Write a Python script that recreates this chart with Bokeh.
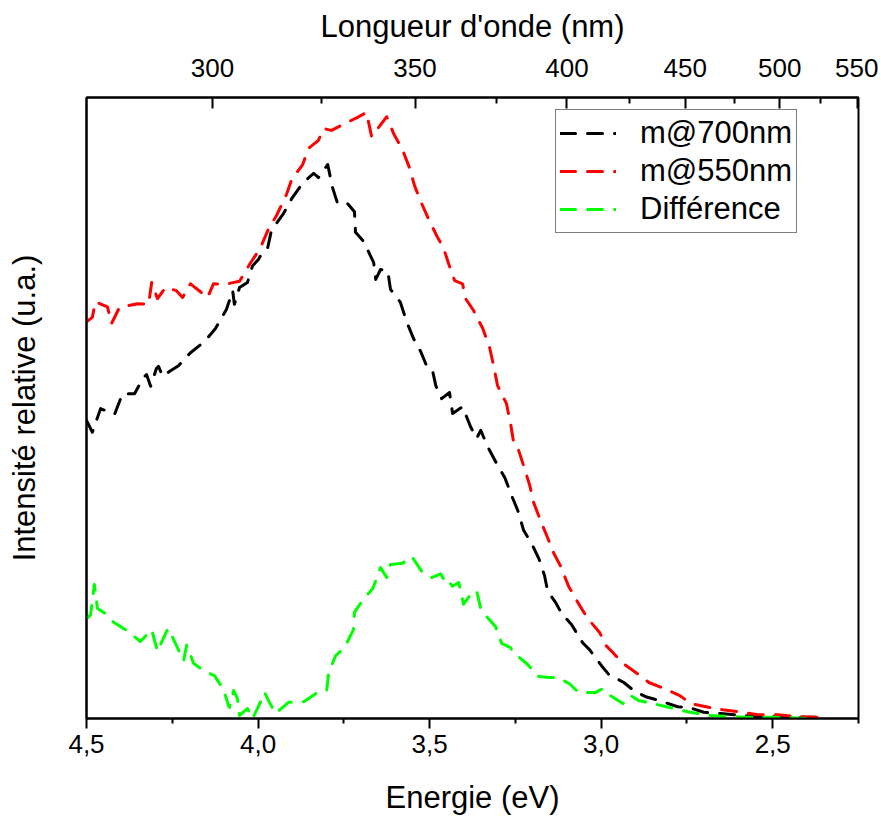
from bokeh.plotting import figure
from bokeh.models import Range1d, LinearAxis, FixedTicker, Legend, LegendItem
from bokeh.embed import file_html
from bokeh.resources import INLINE

# ---- data (energy in eV, relative intensity) ----
energy_700 = [4.500, 4.483, 4.459, 4.418, 4.395, 4.360, 4.334, 4.325, 4.313, 4.296,
              4.290, 4.278, 4.255, 4.232, 4.197, 4.156, 4.124, 4.092, 4.074, 4.069,
              4.054, 4.031, 4.016, 3.999, 3.984, 3.972, 3.961, 3.926, 3.902, 3.870,
              3.838, 3.824, 3.797, 3.783, 3.768, 3.739, 3.719, 3.716, 3.692, 3.663,
              3.657, 3.643, 3.622, 3.614, 3.585, 3.567, 3.547, 3.526, 3.506, 3.491,
              3.482, 3.465, 3.442, 3.433, 3.404, 3.380, 3.363, 3.351, 3.331, 3.305,
              3.281, 3.261, 3.243, 3.226, 3.203, 3.182, 3.165, 3.156, 3.133, 3.115,
              3.086, 3.054, 3.034, 2.999, 2.978, 2.934, 2.905, 2.870, 2.832, 2.777,
              2.745, 2.701, 2.652, 2.584, 2.544, 2.485, 2.439, 2.369]
intensity_700 = [0.480, 0.461, 0.499, 0.490, 0.523, 0.523, 0.549, 0.554, 0.535, 0.564,
                 0.567, 0.551, 0.560, 0.568, 0.589, 0.607, 0.628, 0.659, 0.689, 0.667,
                 0.694, 0.702, 0.729, 0.739, 0.754, 0.758, 0.786, 0.813, 0.837, 0.862,
                 0.878, 0.871, 0.892, 0.855, 0.829, 0.829, 0.816, 0.783, 0.768, 0.734,
                 0.707, 0.723, 0.721, 0.691, 0.670, 0.639, 0.612, 0.591, 0.564, 0.559,
                 0.536, 0.515, 0.525, 0.491, 0.502, 0.469, 0.451, 0.464, 0.438, 0.411,
                 0.388, 0.359, 0.335, 0.303, 0.282, 0.258, 0.230, 0.205, 0.187, 0.169,
                 0.151, 0.122, 0.111, 0.085, 0.071, 0.058, 0.045, 0.035, 0.029, 0.019,
                 0.018, 0.010, 0.008, 0.005, 0.002, 0.003, 0.002, 0.002]

energy_550 = [4.500, 4.483, 4.474, 4.439, 4.427, 4.404, 4.351, 4.319, 4.310, 4.293,
              4.270, 4.238, 4.220, 4.197, 4.147, 4.130, 4.098, 4.054, 4.025, 3.993,
              3.969, 3.946, 3.917, 3.902, 3.870, 3.853, 3.824, 3.809, 3.786, 3.751,
              3.710, 3.684, 3.669, 3.625, 3.605, 3.579, 3.558, 3.544, 3.523, 3.503,
              3.477, 3.459, 3.445, 3.427, 3.404, 3.395, 3.372, 3.345, 3.325, 3.313,
              3.302, 3.276, 3.264, 3.255, 3.243, 3.226, 3.208, 3.197, 3.179, 3.159,
              3.138, 3.118, 3.095, 3.066, 3.039, 3.004, 2.987, 2.964, 2.937, 2.894,
              2.861, 2.815, 2.771, 2.739, 2.687, 2.646, 2.587, 2.544, 2.485, 2.433,
              2.360]
intensity_550 = [0.639, 0.646, 0.671, 0.663, 0.636, 0.662, 0.668, 0.667, 0.702, 0.676,
                 0.694, 0.689, 0.678, 0.700, 0.678, 0.700, 0.699, 0.704, 0.731, 0.758,
                 0.789, 0.810, 0.844, 0.868, 0.892, 0.918, 0.931, 0.950, 0.947, 0.957,
                 0.968, 0.976, 0.937, 0.969, 0.942, 0.916, 0.886, 0.858, 0.829, 0.804,
                 0.775, 0.757, 0.733, 0.705, 0.700, 0.676, 0.657, 0.628, 0.597, 0.567,
                 0.536, 0.507, 0.475, 0.444, 0.436, 0.407, 0.375, 0.348, 0.322, 0.295,
                 0.266, 0.245, 0.213, 0.185, 0.161, 0.138, 0.118, 0.105, 0.089, 0.072,
                 0.058, 0.048, 0.037, 0.024, 0.018, 0.014, 0.010, 0.006, 0.006, 0.003,
                 0.002]

energy_diff = [4.500, 4.488, 4.477, 4.468, 4.445, 4.421, 4.378, 4.343, 4.310, 4.293,
               4.267, 4.261, 4.246, 4.223, 4.217, 4.208, 4.188, 4.156, 4.127, 4.101,
               4.086, 4.083, 4.071, 4.060, 4.054, 4.031, 4.016, 3.999, 3.981, 3.967,
               3.949, 3.911, 3.867, 3.832, 3.800, 3.794, 3.774, 3.748, 3.722, 3.719,
               3.692, 3.666, 3.652, 3.643, 3.625, 3.614, 3.579, 3.552, 3.523, 3.494,
               3.468, 3.450, 3.442, 3.433, 3.415, 3.401, 3.380, 3.363, 3.351, 3.337,
               3.308, 3.290, 3.264, 3.255, 3.238, 3.214, 3.185, 3.153, 3.127, 3.092,
               3.066, 3.016, 2.996, 2.982, 2.937, 2.914, 2.891, 2.809, 2.742, 2.681,
               2.584, 2.491, 2.395]
intensity_diff = [0.161, 0.167, 0.216, 0.177, 0.169, 0.155, 0.140, 0.124, 0.143, 0.108,
                  0.140, 0.145, 0.127, 0.100, 0.093, 0.118, 0.089, 0.076, 0.069, 0.047,
                  0.021, 0.018, 0.045, 0.032, 0.005, 0.016, 0.000, 0.019, 0.042, 0.026,
                  0.008, 0.026, 0.027, 0.040, 0.045, 0.074, 0.101, 0.114, 0.143, 0.171,
                  0.193, 0.209, 0.229, 0.243, 0.227, 0.248, 0.250, 0.261, 0.237, 0.227,
                  0.233, 0.216, 0.219, 0.213, 0.219, 0.184, 0.200, 0.206, 0.177, 0.166,
                  0.148, 0.121, 0.114, 0.105, 0.098, 0.087, 0.068, 0.066, 0.066, 0.056,
                  0.042, 0.042, 0.048, 0.040, 0.024, 0.037, 0.029, 0.019, 0.010, 0.005,
                  0.002, 0.002, 0.000]

series_labels = ["m@700nm", "m@550nm", "Différence"]

energy_ticks = [4.5, 4.0, 3.5, 3.0, 2.5]
energy_tick_labels = ["4,5", "4,0", "3,5", "3,0", "2,5"]
energy_minor_ticks = [4.25, 3.75, 3.25, 2.75, 2.25]
wavelength_ticks = [300, 350, 400, 450, 500, 550]
wavelength_tick_labels = ["300", "350", "400", "450", "500", "550"]
wavelength_minor_ticks = [325, 375, 425, 475, 525]
HC = 1239.84  # eV*nm

FONT = "Liberation Sans"

p = figure(width=878, height=817,
           x_range=Range1d(4.5, 2.25), y_range=Range1d(0, 1.0),
           output_backend="svg", toolbar_location=None,
           min_border_left=86, min_border_right=20,
           min_border_top=97, min_border_bottom=99)
p.xgrid.visible = False
p.ygrid.visible = False
p.outline_line_color = "black"
p.outline_line_width = 2
p.background_fill_color = "white"
p.border_fill_color = "white"

dash = "15 12"
r1 = p.line(energy_700, intensity_700, color="#000000", line_width=3,
            line_dash=dash, line_cap="round", line_join="round")
r2 = p.line(energy_550, intensity_550, color="#FF0000", line_width=3,
            line_dash=dash, line_cap="round", line_join="round")
r3 = p.line(energy_diff, intensity_diff, color="#00FF00", line_width=3,
            line_dash=dash, line_cap="round", line_join="round")


def style_axis(ax):
    ax.axis_label_text_font = FONT
    ax.axis_label_text_font_size = "31px"
    ax.axis_label_text_font_style = "normal"
    ax.axis_label_text_color = "black"
    ax.major_label_text_font = FONT
    ax.major_label_text_font_size = "26px"
    ax.major_label_text_color = "black"
    ax.axis_line_color = "black"
    ax.major_tick_line_color = "black"
    ax.minor_tick_line_color = "black"
    ax.axis_line_width = 2
    ax.major_tick_line_width = 2
    ax.minor_tick_line_width = 2


# bottom axis (energy)
xa = p.xaxis[0]
xa.ticker = FixedTicker(ticks=energy_ticks, minor_ticks=energy_minor_ticks)
xa.major_label_overrides = dict(zip(energy_ticks, energy_tick_labels))
xa.axis_label = "Energie (eV)"
style_axis(xa)
xa.major_tick_in = 0
xa.major_tick_out = 10
xa.minor_tick_in = 0
xa.minor_tick_out = 5
xa.major_label_standoff = 6
xa.axis_label_standoff = 24

# top axis (wavelength)
top_ticks = [HC / w for w in wavelength_ticks]
top_minor = [HC / w for w in wavelength_minor_ticks]
ta = LinearAxis(ticker=FixedTicker(ticks=top_ticks, minor_ticks=top_minor),
                major_label_overrides=dict(zip(top_ticks, wavelength_tick_labels)),
                axis_label="Longueur d'onde (nm)")
style_axis(ta)
ta.major_tick_in = 11
ta.major_tick_out = 0
ta.minor_tick_in = 6
ta.minor_tick_out = 0
ta.major_label_standoff = 21
ta.axis_label_standoff = 12
p.add_layout(ta, "above")

# left axis (no ticks)
ya = p.yaxis[0]
ya.ticker = FixedTicker(ticks=[])
ya.axis_label = "Intensité relative (u.a.)"
style_axis(ya)
ya.major_tick_in = 0
ya.major_tick_out = 0
ya.minor_tick_in = 0
ya.minor_tick_out = 0
ya.axis_label_standoff = 45

legend = Legend(items=[LegendItem(label=series_labels[0], renderers=[r1]),
                       LegendItem(label=series_labels[1], renderers=[r2]),
                       LegendItem(label=series_labels[2], renderers=[r3])],
                location=(469, 485))
legend.label_text_font = FONT
legend.label_text_font_size = "31px"
legend.label_text_color = "black"
legend.border_line_color = "black"
legend.border_line_width = 1.5
legend.background_fill_alpha = 1.0
legend.padding = 4
legend.spacing = 0
legend.margin = 0
legend.glyph_width = 56
legend.glyph_height = 38
legend.label_height = 38
legend.label_standoff = 24
p.add_layout(legend)

open("out.html", "w").write(file_html(p, INLINE))
